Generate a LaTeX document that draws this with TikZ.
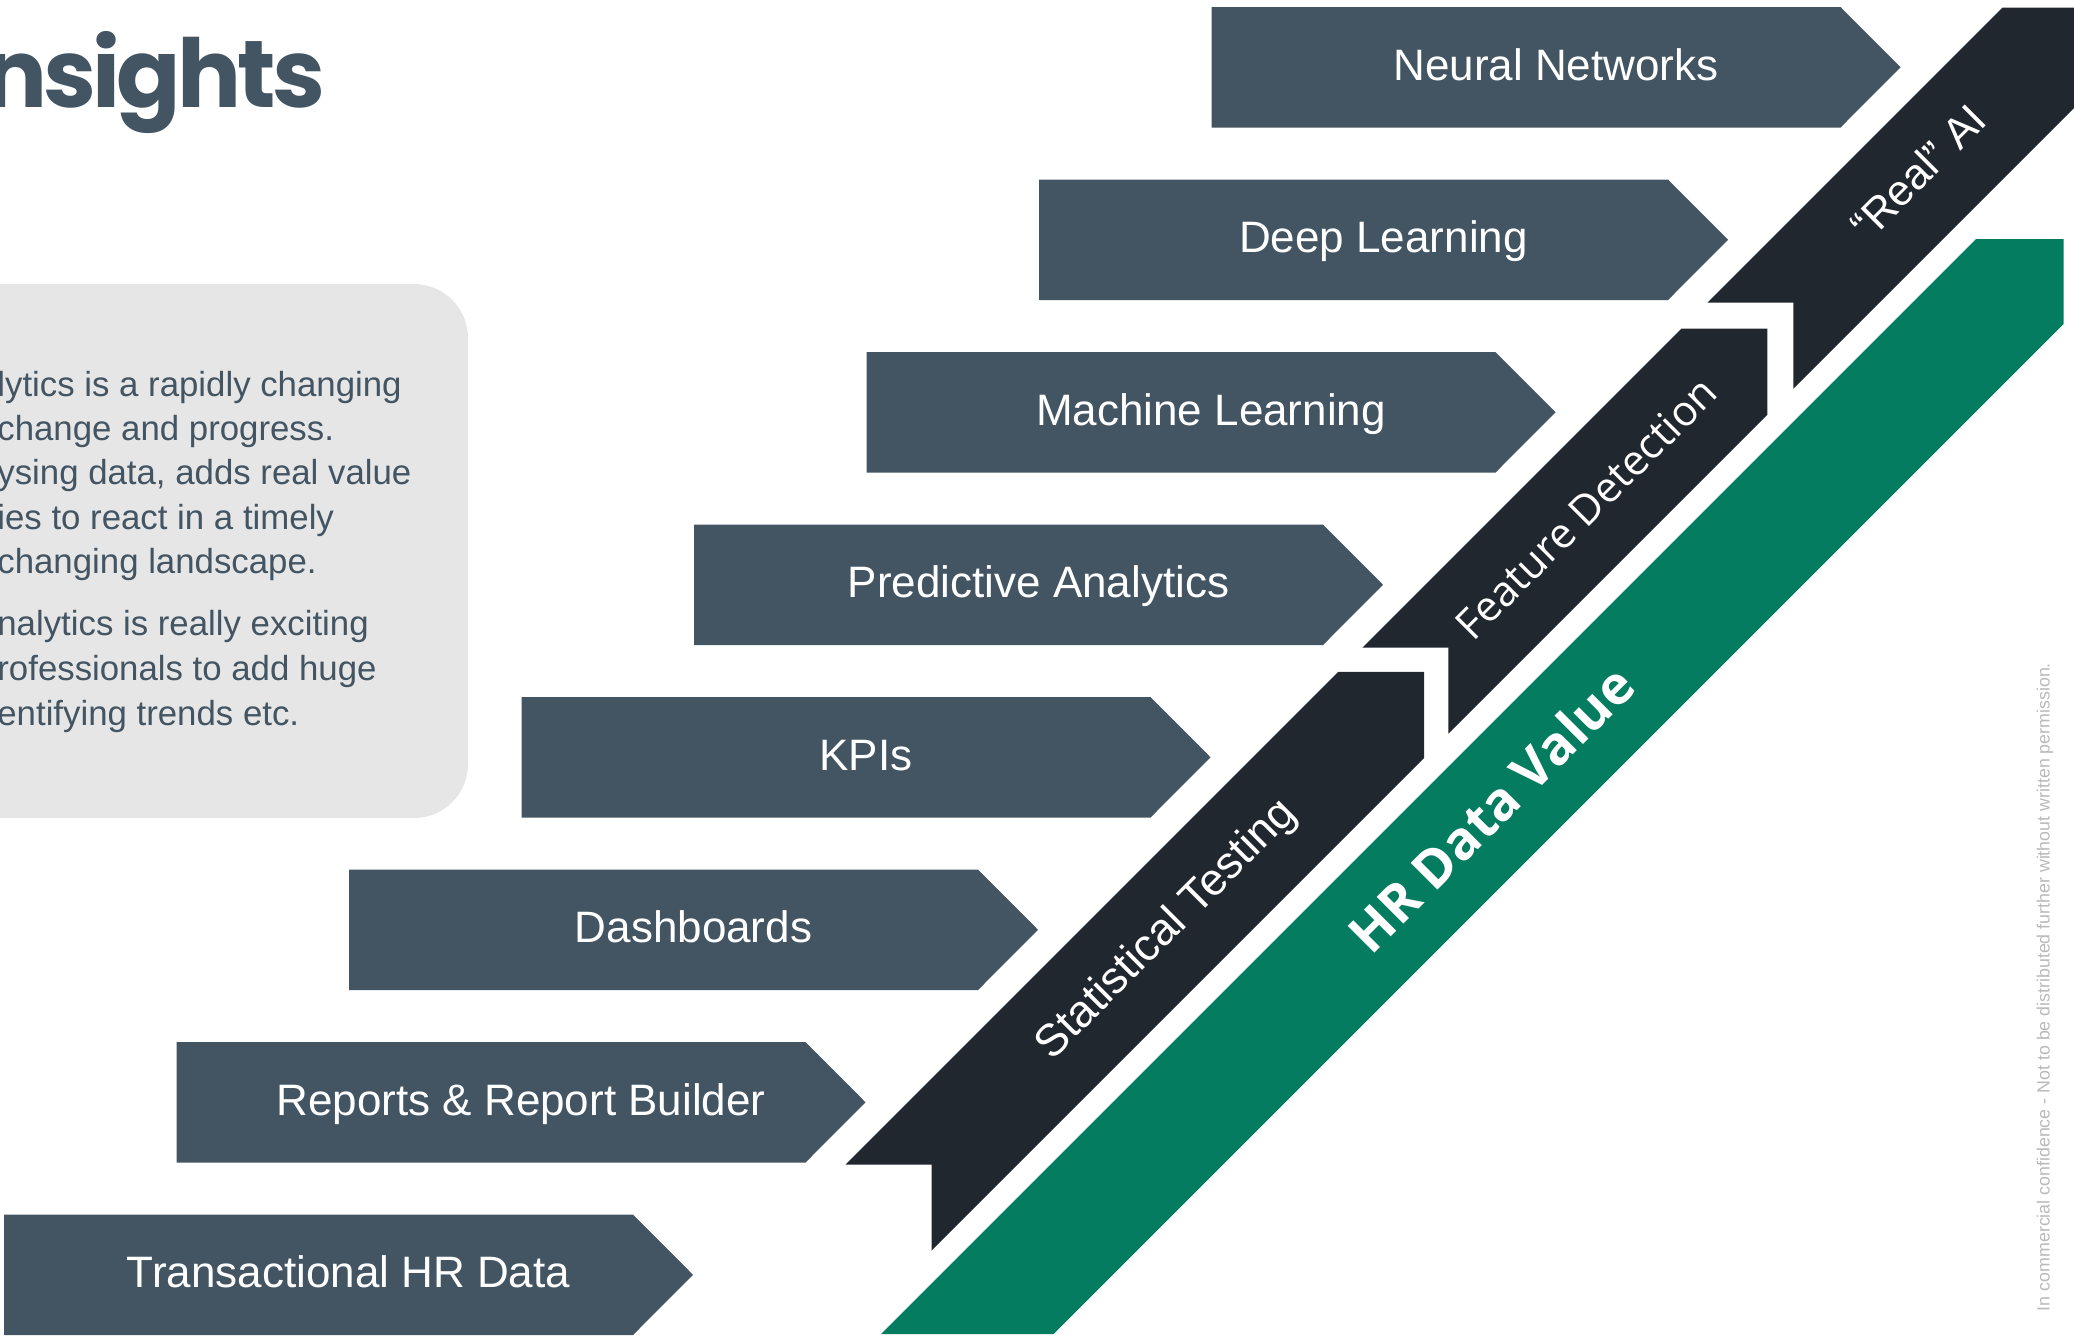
\documentclass[tikz,border=0pt]{standalone}
\usepackage{fontspec}
\setmainfont{Liberation Sans}
\newfontfamily\titlefont{Poppins}[LetterSpace=-4]
\newfontfamily\opensans{Open Sans}

\definecolor{slate}{RGB}{67,85,99}
\definecolor{ribbon}{RGB}{33,39,47}
\definecolor{hrgreen}{RGB}{3,124,96}
\definecolor{boxgrey}{RGB}{230,230,230}
\definecolor{notegrey}{RGB}{185,185,185}

\tikzset{
  chevron/.style={fill=slate},
  steplabel/.style={text=white, anchor=base, inner sep=0, font=\fontsize{22}{26}\selectfont},
  bandlabel/.style={text=white, rotate=45, inner sep=0},
  boxline/.style={text=slate, anchor=base west, inner sep=0, font=\fontsize{17.4}{21}\selectfont},
}

\begin{document}
\begin{tikzpicture}[x=0.5pt, y=-0.5pt]
   \useasboundingbox (0,0) rectangle (2074,1341);

   % heading and note box
   \node [anchor=base east, inner sep=0, text=slate, font=\titlefont\bfseries\fontsize{47.5}{58}\selectfont] (title) at (326,107) {nsights};
   \fill [boxgrey, rounded corners=27pt] (-120,284) rectangle (468,818);
   \foreach \txt/\yy [count=\k] in {{lytics is a rapidly changing}/396, {change and progress.}/440,
       {ysing data, adds real value}/484.5, {ies to react in a timely}/529, {changing landscape.}/573.5,
       {nalytics is really exciting}/635, {rofessionals to add huge}/680, {entifying trends etc.}/725}
      \node [boxline] (line\k) at (-3,\yy) {\txt};

   % steps, bottom to top
   \foreach \i/\name/\txt in {0/trans/Transactional HR Data, 1/reports/Reports \& Report Builder,
       2/dash/Dashboards, 3/kpi/KPIs, 4/predict/Predictive Analytics, 5/ml/Machine Learning,
       6/dl/Deep Learning, 7/nn/Neural Networks} {
      \pgfmathsetmacro\x{4+172.5*\i}
      \pgfmathsetmacro\y{1214.5-172.5*\i}
      \fill [chevron] (\x,\y) -- ++(629,0) -- ++(60,60.25) -- ++(-60,60.25) -- ++(-629,0) -- cycle;
      \node [steplabel] (\name) at (\x+344.5,\y+73) {\txt};
   }

   % dark ribbons: notch point and length
   \foreach \nx/\ny/\len in {931.6/1164.5/492.6, 1448.3/647.7/319, 1793.3/302.7/295}
      \fill [ribbon] (\nx,\ny) -- ++(0,86) -- ++(\len,-\len) -- ++(0,-86) -- ++(-86,0) -- ++(-\len,\len) -- cycle;
   \node [bandlabel, font=\fontsize{22.5}{26}\selectfont] (stat) at (1167,930) {Statistical Testing};
   \node [bandlabel, font=\opensans\fontsize{21}{25}\selectfont] (feat) at (1586,508) {Feature Detection};
   \node [bandlabel, font=\fontsize{21.5}{25}\selectfont] (realai) at (1918,172) {“Real” AI};

   % green value band
   \fill [hrgreen] (881,1334) -- (1976,239) -- (2063.6,239) -- (2063.6,324) -- (1053.5,1334) -- cycle;
   \node [bandlabel, font=\opensans\bfseries\fontsize{26.5}{31}\selectfont] (value) at (1491,809) {HR Data Value};

   \node [rotate=90, text=notegrey, inner sep=0, font=\fontsize{8.9}{10}\selectfont] (note) at (2045,987)
      {In commercial confidence - Not to be distributed further without written permission.};
\end{tikzpicture}
\end{document}
